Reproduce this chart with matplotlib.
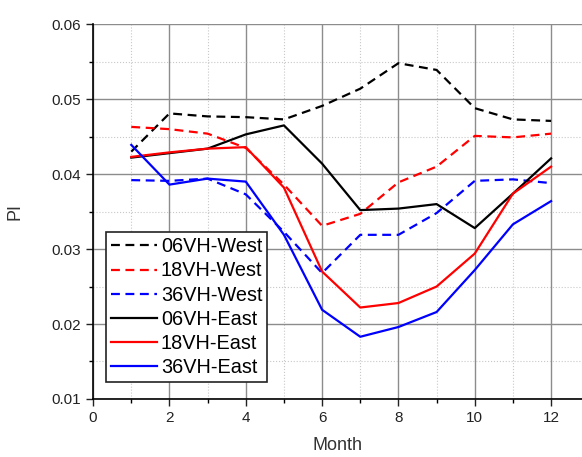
import matplotlib.pyplot as plt
from matplotlib.ticker import MultipleLocator

plt.rcParams['font.family'] = ['Liberation Sans', 'DejaVu Sans']

months = [1, 2, 3, 4, 5, 6, 7, 8, 9, 10, 11, 12]

west_06 = [0.0430, 0.0481, 0.0477, 0.0476, 0.0473, 0.0491, 0.0514, 0.0548, 0.0539, 0.0488, 0.0473, 0.0471]
west_18 = [0.0463, 0.0460, 0.0454, 0.0435, 0.0386, 0.0331, 0.0347, 0.0389, 0.0410, 0.0451, 0.0449, 0.0454]
west_36 = [0.0392, 0.0391, 0.0394, 0.0373, 0.0323, 0.0268, 0.0319, 0.0319, 0.0348, 0.0391, 0.0393, 0.0388]
east_06 = [0.0422, 0.0428, 0.0434, 0.0453, 0.0465, 0.0414, 0.0352, 0.0354, 0.0360, 0.0328, 0.0374, 0.0421]
east_18 = [0.0423, 0.0429, 0.0434, 0.0436, 0.0382, 0.0270, 0.0222, 0.0228, 0.0250, 0.0294, 0.0374, 0.0410]
east_36 = [0.0439, 0.0386, 0.0394, 0.0390, 0.0319, 0.0219, 0.0183, 0.0196, 0.0216, 0.0272, 0.0333, 0.0364]

fig = plt.figure(figsize=(5.82, 4.57), dpi=100)
ax = fig.add_axes([0.160, 0.127, 0.840, 0.820])

dash = (0, (4, 2.5))
ax.plot(months, west_06, color='black', lw=1.6, linestyle=dash, label='06VH-West')
ax.plot(months, west_18, color='red', lw=1.6, linestyle=dash, label='18VH-West')
ax.plot(months, west_36, color='blue', lw=1.6, linestyle=dash, label='36VH-West')
ax.plot(months, east_06, color='black', lw=1.6, label='06VH-East')
ax.plot(months, east_18, color='red', lw=1.6, label='18VH-East')
ax.plot(months, east_36, color='blue', lw=1.6, label='36VH-East')

ax.set_xlim(0, 12.81)
ax.set_ylim(0.01, 0.06)
ax.xaxis.set_major_locator(MultipleLocator(2))
ax.xaxis.set_minor_locator(MultipleLocator(1))
ax.yaxis.set_major_locator(MultipleLocator(0.01))
ax.yaxis.set_minor_locator(MultipleLocator(0.005))
ax.yaxis.set_major_formatter(plt.FormatStrFormatter('%.2f'))

ax.grid(which='major', color='#8c8c8c', lw=1.0, linestyle='-')
ax.grid(which='minor', color='#c8c8c8', lw=0.8, linestyle=':')
ax.set_axisbelow(True)

ax.spines['top'].set_visible(False)
ax.spines['right'].set_visible(False)
ax.spines['left'].set_linewidth(1.2)
ax.spines['bottom'].set_linewidth(1.2)
ax.tick_params(which='major', direction='out', length=5, width=1, labelsize=11, colors='#222222')
ax.tick_params(which='minor', direction='out', length=3, width=1)

ax.set_xlabel('Month', fontsize=13, color='#333333', labelpad=9)
ax.set_ylabel('PI', fontsize=13, color='#333333', labelpad=20)

leg = ax.legend(loc='lower left', bbox_to_anchor=(0.027, 0.045), fontsize=14.3,
                handlelength=2.3, handletextpad=0.2, labelspacing=0.26,
                borderpad=0.25, borderaxespad=0, fancybox=False, framealpha=1)
leg.get_frame().set_edgecolor('#222222')
leg.get_frame().set_linewidth(1.2)

fig.savefig('out.png', dpi=100)
